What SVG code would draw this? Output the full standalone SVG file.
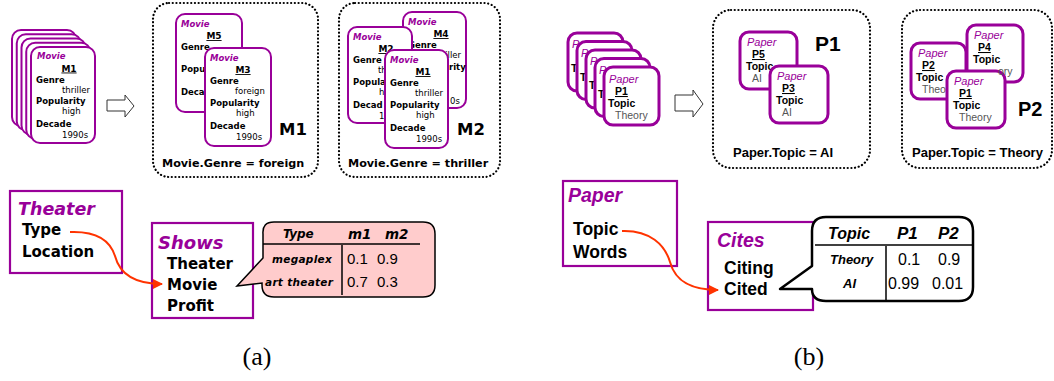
<svg xmlns="http://www.w3.org/2000/svg" width="1054" height="381" viewBox="0 0 1054 381">
<style>
.bg{fill:#fff}
.mc{fill:#fff;stroke:#990099;stroke-width:2}
.pc{fill:#fff;stroke:#990099;stroke-width:3}
.dot{fill:none;stroke:#000;stroke-width:2.2;stroke-dasharray:0.1 3.6;stroke-linecap:round}
.hol{fill:#fff;stroke:#333;stroke-width:1}
.v{font-family:"DejaVu Sans",Verdana,sans-serif}
.a{font-family:"Liberation Sans",Arial,sans-serif}
.mt{font-size:8.5px;font-weight:bold;font-style:italic;fill:#990099}
.mid{font-size:9px;font-weight:bold;text-anchor:middle;text-decoration:underline}
.ml{font-size:8.5px;font-weight:bold}
.mv{font-size:8.5px}
.pt{font-size:11px;font-style:italic;fill:#990099}
.pid{font-size:10.5px;font-weight:bold;text-decoration:underline}
.pl{font-size:10.5px;font-weight:bold}
.pv{font-size:10.5px;fill:#555}
.big{font-weight:bold}
.box{fill:#fff;stroke:#990099;stroke-width:2.2}
.ttl{font-weight:bold;font-style:italic;fill:#990099}
.att{font-weight:bold}
.red{fill:none;stroke:#ff3300;stroke-width:2}
.tl{stroke:#000;stroke-width:1.5}
.cap{font-family:"Liberation Serif","Times New Roman",serif;font-size:26px;text-anchor:middle}
</style>
<defs>
<marker id="ar" viewBox="0 0 10 10" refX="9" refY="5" markerWidth="5" markerHeight="5" orient="auto" markerUnits="strokeWidth"><path d="M0,0 L10,5 L0,10 Z" fill="#ff3300"/></marker>
</defs>
<rect class="bg" x="0" y="0" width="1054" height="381"/>

<!-- (a) movie stack -->
<g id="movie-stack">
<rect class="mc" x="12" y="30" width="64" height="96" rx="9"/>
<rect class="mc" x="16.75" y="34.25" width="64" height="96" rx="9"/>
<rect class="mc" x="21.5" y="38.5" width="64" height="96" rx="9"/>
<rect class="mc" x="26.25" y="42.75" width="64" height="96" rx="9"/>
<rect class="mc" x="31" y="47" width="64" height="96" rx="9"/>
<g class="v">
<text class="mt" x="37" y="59">Movie</text>
<text class="mid" x="69" y="71.5">M1</text>
<text class="ml" x="36" y="82.5">Genre</text>
<text class="mv" x="62" y="92.5">thriller</text>
<text class="ml" x="36" y="104">Popularity</text>
<text class="mv" x="62" y="113.5">high</text>
<text class="ml" x="36" y="126.5">Decade</text>
<text class="mv" x="62" y="137.5">1990s</text>
</g>
</g>
<g id="arrow-a"><path class="hol" d="M107,100 H125 V95 L134,106 L125,117 V111 H107 Z"/></g>

<!-- M1 cluster -->
<g id="cluster-M1">
<rect class="dot" x="153" y="3" width="165" height="174" rx="16"/>
<rect class="mc" x="176" y="14" width="66" height="98" rx="9"/>
<g class="v">
<text class="mt" x="181" y="26.5">Movie</text>
<text class="mid" x="214" y="39">M5</text>
<text class="ml" x="181" y="50">Genre</text>
<text class="ml" x="181" y="72">Popu</text>
<text class="ml" x="181" y="94.5">Deca</text>
</g>
<rect class="mc" x="205" y="48" width="66" height="98" rx="9"/>
<g class="v">
<text class="mt" x="210" y="60.5">Movie</text>
<text class="mid" x="243" y="73">M3</text>
<text class="ml" x="210" y="84">Genre</text>
<text class="mv" x="235" y="94">foreign</text>
<text class="ml" x="210" y="106">Popularity</text>
<text class="mv" x="236" y="115.5">high</text>
<text class="ml" x="210" y="128.5">Decade</text>
<text class="mv" x="236" y="139.5">1990s</text>
<text class="big" x="279" y="135" font-size="16.5">M1</text>
<text class="big" x="162" y="167" font-size="11.2">Movie.Genre = foreign</text>
</g>
</g>

<!-- M2 cluster -->
<g id="cluster-M2">
<rect class="dot" x="339" y="3" width="161" height="174" rx="16"/>
<rect class="mc" x="403" y="12" width="63" height="96" rx="9"/>
<g class="v">
<text class="mt" x="408" y="24.5">Movie</text>
<text class="mid" x="441" y="37">M4</text>
<text class="ml" x="408" y="48">Genre</text>
<text class="mv" x="433" y="58">thriller</text>
<text class="ml" x="449" y="70">rity</text>
<text class="mv" x="450" y="103.5">0s</text>
</g>
<rect class="mc" x="348" y="27" width="64" height="96" rx="9"/>
<g class="v">
<text class="mt" x="353" y="39.5">Movie</text>
<text class="mid" x="386" y="52">M2</text>
<text class="ml" x="353" y="63">Genre</text>
<text class="mv" x="378" y="73">th</text>
<text class="ml" x="353" y="85">Popula</text>
<text class="mv" x="379" y="94.5">hi</text>
<text class="ml" x="353" y="107.5">Decad</text>
<text class="mv" x="379" y="118.5">1</text>
</g>
<rect class="mc" x="385" y="50" width="63" height="98" rx="9"/>
<g class="v">
<text class="mt" x="390" y="62.5">Movie</text>
<text class="mid" x="423" y="75">M1</text>
<text class="ml" x="390" y="86">Genre</text>
<text class="mv" x="415" y="96">thriller</text>
<text class="ml" x="390" y="108">Popularity</text>
<text class="mv" x="416" y="117.5">high</text>
<text class="ml" x="390" y="130.5">Decade</text>
<text class="mv" x="416" y="141.5">1990s</text>
<text class="big" x="457" y="135" font-size="16.5">M2</text>
<text class="big" x="348" y="167" font-size="11.2">Movie.Genre = thriller</text>
</g>
</g>

<!-- Theater -->
<g id="theater">
<rect class="box" x="10" y="191" width="112" height="82"/>
<g class="v">
<text class="ttl" x="18" y="215" font-size="17.5">Theater</text>
<text class="att" x="22" y="235" font-size="15">Type</text>
<text class="att" x="22" y="257" font-size="15">Location</text>
</g>
</g>
<g id="shows">
<rect class="box" x="152" y="223" width="101" height="95"/>
<g class="v">
<text class="ttl" x="158" y="249" font-size="18">Shows</text>
<text class="att" x="167" y="269" font-size="15">Theater</text>
<text class="att" x="167" y="290" font-size="15">Movie</text>
<text class="att" x="167" y="311" font-size="15">Profit</text>
</g>
</g>
<g id="cpd-a">
<path d="M274,222 H423 Q435,222 435,234 V285 Q435,297 423,297 H274 Q262,297 262,285 V283 L237,286 L263,258 V234 Q262,222 274,222 Z" fill="#ffcccc" stroke="#000" stroke-width="1.5"/>
<line class="tl" x1="263" y1="244" x2="420" y2="244"/>
<line class="tl" x1="342" y1="245" x2="342" y2="295"/>
<g class="v" font-weight="bold" font-style="italic">
<text x="283" y="238" font-size="12">Type</text>
<text x="348" y="239" font-size="13.5">m1</text>
<text x="385" y="239" font-size="13.5">m2</text>
<text x="272" y="263" font-size="10.5" letter-spacing="0.3">megaplex</text>
<text x="265" y="286" font-size="10.5" letter-spacing="0.3">art theater</text>
</g>
<g class="a" font-size="15">
<text x="347" y="264">0.1</text>
<text x="377" y="264">0.9</text>
<text x="347" y="287">0.7</text>
<text x="377" y="287">0.3</text>
</g>
</g>

<!-- (b) paper stack -->
<g id="paper-stack">
<g class="a">
<rect class="pc" x="568" y="33" width="55" height="58" rx="9"/>
<text class="pt" x="572" y="48">P</text><text class="pl" x="571" y="72">T</text>
<rect class="pc" x="577" y="41.5" width="55" height="58" rx="9"/>
<text class="pt" x="581" y="56.5">P</text><text class="pl" x="580" y="80.5">T</text>
<rect class="pc" x="586" y="50" width="55" height="58" rx="9"/>
<text class="pt" x="590" y="65">P</text><text class="pl" x="589" y="89">T</text>
<rect class="pc" x="595" y="58.5" width="55" height="58" rx="9"/>
<text class="pt" x="599" y="73.5">P</text><text class="pl" x="598" y="97.5">T</text>
<rect class="pc" x="604" y="67" width="55" height="58" rx="9"/>
<text class="pt" x="609" y="83">Paper</text>
<text class="pid" x="615" y="95">P1</text>
<text class="pl" x="608" y="107">Topic</text>
<text class="pv" x="615" y="119">Theory</text>
</g>
</g>
<g id="arrow-b"><path class="hol" d="M675,95 H693 V90 L703,104 L693,117 V111 H675 Z"/></g>

<g id="cluster-P1">
<rect class="dot" x="713" y="10" width="157" height="158" rx="18"/>
<g class="a">
<rect class="pc" x="740" y="32" width="57" height="57" rx="9"/>
<text class="pt" x="747" y="46">Paper</text>
<text class="pid" x="752" y="58">P5</text>
<text class="pl" x="746" y="70">Topic</text>
<text class="pv" x="752" y="82">AI</text>
<rect class="pc" x="770" y="66" width="58" height="57" rx="9"/>
<text class="pt" x="777" y="80">Paper</text>
<text class="pid" x="782" y="92">P3</text>
<text class="pl" x="776" y="104">Topic</text>
<text class="pv" x="782" y="116">AI</text>
<text class="big" x="815" y="51" font-size="21">P1</text>
<text class="big" x="733" y="157" font-size="13">Paper.Topic = AI</text>
</g>
</g>

<g id="cluster-P2">
<rect class="dot" x="902" y="10" width="150" height="158" rx="18"/>
<g class="a">
<rect class="pc" x="967" y="25" width="56" height="57" rx="9"/>
<text class="pt" x="974" y="39">Paper</text>
<text class="pid" x="978" y="51">P4</text>
<text class="pl" x="973" y="63">Topic</text>
<rect class="pc" x="911" y="43" width="55" height="56" rx="9"/>
<text class="pt" x="918" y="57">Paper</text>
<text class="pid" x="922" y="69">P2</text>
<text class="pl" x="916" y="81">Topic</text>
<text class="pv" x="922" y="93">Theo</text>
<rect class="pc" x="947" y="71" width="58" height="57" rx="9"/>
<text class="pv" x="998" y="75">ory</text>
<text class="pt" x="954" y="85">Paper</text>
<text class="pid" x="959" y="97">P1</text>
<text class="pl" x="953" y="109">Topic</text>
<text class="pv" x="959" y="121">Theory</text>
<text class="big" x="1018" y="116" font-size="20">P2</text>
<text class="big" x="912" y="157" font-size="13">Paper.Topic = Theory</text>
</g>
</g>

<g id="paper">
<rect class="box" x="563" y="181" width="114" height="85"/>
<g class="a">
<text class="ttl" x="568" y="202" font-size="19.5">Paper</text>
<text class="att" x="573" y="235" font-size="17.5">Topic</text>
<text class="att" x="573" y="258" font-size="17.5">Words</text>
</g>
</g>
<g id="cites">
<rect class="box" x="708" y="222" width="105" height="88"/>
<g class="a">
<text class="ttl" x="717" y="247" font-size="19.5">Cites</text>
<text class="att" x="724" y="274" font-size="17.5">Citing</text>
<text class="att" x="724" y="295" font-size="17.5">Cited</text>
</g>
</g>
<g id="cpd-b">
<path d="M826,217 H959 Q973,217 973,231 V287 Q973,301 959,301 H826 Q812,301 812,289 L780,289 L812,266 V231 Q812,217 826,217 Z" fill="#fff" stroke="#000" stroke-width="2.5" stroke-linejoin="round"/>
<line class="tl" x1="815" y1="245" x2="973" y2="245" stroke-width="2"/>
<line class="tl" x1="886" y1="246" x2="886" y2="300" stroke-width="2"/>
<g class="a" font-weight="bold" font-style="italic">
<text x="828" y="239" font-size="16">Topic</text>
<text x="897" y="239" font-size="17">P1</text>
<text x="938" y="239" font-size="17">P2</text>
<text x="830" y="264" font-size="13">Theory</text>
<text x="843" y="288" font-size="13">AI</text>
</g>
<g class="a" font-size="16">
<text x="898" y="265">0.1</text>
<text x="938" y="265">0.9</text>
<text x="888" y="289">0.99</text>
<text x="932" y="289">0.01</text>
</g>
</g>

<g id="connectors">
<path class="red" d="M70,232 C95,231 110,240 115,256 C120,275 135,284 162,284" marker-end="url(#ar)"/>
<path class="red" d="M622,231 C650,230 665,245 670,262 C676,284 695,290 718,290" marker-end="url(#ar)"/>
</g>

<text class="cap" x="257" y="365">(a)</text>
<text class="cap" x="809" y="365">(b)</text>
</svg>
